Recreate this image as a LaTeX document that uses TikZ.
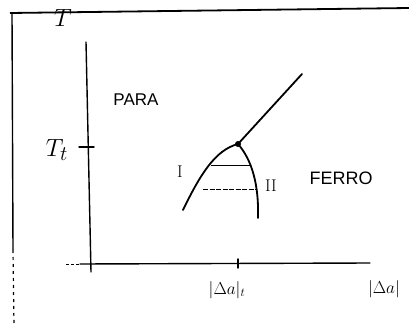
\documentclass[tikz,border=0pt]{standalone}
\usepackage{fontspec}
\setsansfont{Liberation Sans}
\begin{document}
\begin{tikzpicture}[x=1pt,y=-1pt,
  lbl/.style={font=\sffamily\fontsize{17}{19}\selectfont, inner sep=1pt},
  axis/.style={line width=1.4pt, line cap=round},
  curve/.style={line width=1.8pt, line cap=round},
  tie/.style={line width=1pt}]
\useasboundingbox (0,0) rectangle (409,326);
% frame
\draw[line width=1.8pt] (10,13) -- (409,8);
\draw[line width=1.4pt] (12,13) -- (13,250);
\draw[line width=1.2pt, dash pattern=on 3pt off 4pt] (13,250) -- (14,326);
% axes
\coordinate (ytop) at (86,42);
\coordinate (ybot) at (91,272);
\coordinate (xl) at (80,264);
\coordinate (xr) at (370,263);
\draw[axis] (ytop) -- (ybot);
\draw[axis] (xl) -- (xr);
\draw[line width=1pt, dash pattern=on 3pt off 2pt] (66,264) -- (xl);
% ticks
\coordinate (tt) at (88,147);
\draw[axis] (79,147) -- (94,147);
\coordinate (at) at (238,264);
\draw[axis] (238,259) -- (238,268);
% labels
\node (T) at (63,18) {\fontsize{26}{28}\selectfont $T$};
\node (Tt) at (57,150) {\fontsize{30}{32}\selectfont $T_t$};
\node[lbl] (para) at (136,100) {PARA};
\node[lbl, font=\sffamily\fontsize{18}{20}\selectfont] (ferro) at (341,178) {FERRO};
\node (aT) at (227,290) {\fontsize{17}{19}\selectfont $|\Delta a|_t$};
\node (a) at (384,289) {\fontsize{17}{19}\selectfont $|\Delta a|$};
% coexistence curve
\coordinate (crit) at (238,144);
\fill (crit) circle (3pt);
\draw[curve] (crit) -- (302,74);
\draw[curve] (crit) .. controls (215,150) and (200,175) .. (183,210);
\draw[curve] (crit) .. controls (252,160) and (259,185) .. (258,218);
\draw[tie] (211,165) -- (250,165);
\draw[tie, dash pattern=on 5pt off 1.5pt] (203,189) -- (257,189);
\node (I) at (180,172) {\fontsize{17}{19}\selectfont I};
\node (II) at (271,186) {\fontsize{17}{19}\selectfont II};
\end{tikzpicture}
\end{document}
